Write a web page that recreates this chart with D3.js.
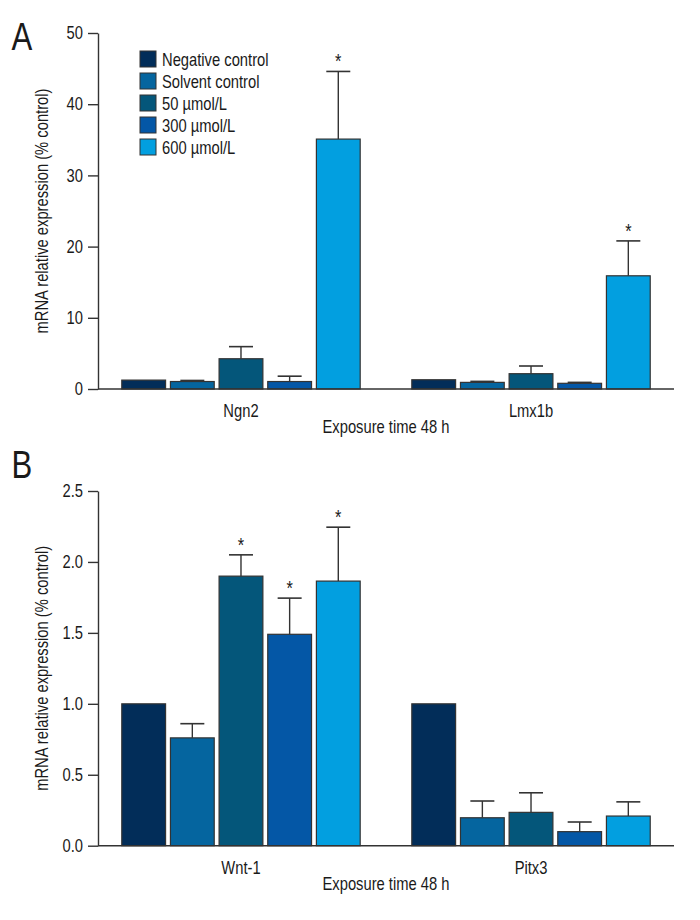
<!DOCTYPE html>
<html>
<head>
<meta charset="utf-8">
<script src="https://cdn.jsdelivr.net/npm/d3@7"></script>
<style>
  body { margin: 0; background: #fff; }
  svg { display: block; }
  text { font-family: "Liberation Sans", Arial, sans-serif; fill: #1a1a1a; }
</style>
</head>
<body>
<svg id="chart" width="700" height="920"></svg>
<script>
// ---- data ----
const seriesNames = ["Negative control", "Solvent control", "50 µmol/L", "300 µmol/L", "600 µmol/L"];
const seriesColors = ["#022d59", "#05659f", "#04567a", "#0457a6", "#029fe0"];

const genesA = ["Ngn2", "Lmx1b"];
const ngn2Mean = [1.25, 1.05, 4.25, 1.05, 35.1];
const ngn2Sem  = [0, 0.15, 1.7, 0.75, 9.5];
const ngn2Sig  = [false, false, false, false, true];
const lmx1bMean = [1.3, 0.93, 2.15, 0.8, 15.9];
const lmx1bSem  = [0, 0.14, 1.08, 0.13, 4.9];
const lmx1bSig  = [false, false, false, false, true];
const ticksA = [0, 10, 20, 30, 40, 50];

const genesB = ["Wnt-1", "Pitx3"];
const wnt1Mean = [1.0, 0.76, 1.90, 1.49, 1.865];
const wnt1Sem  = [0, 0.10, 0.15, 0.255, 0.38];
const wnt1Sig  = [false, false, true, true, true];
const pitx3Mean = [1.0, 0.197, 0.235, 0.099, 0.209];
const pitx3Sem  = [0, 0.118, 0.138, 0.068, 0.10];
const pitx3Sig  = [false, false, false, false, false];
const ticksB = [0, 0.5, 1.0, 1.5, 2.0, 2.5];

const yTitle = "mRNA relative expression (% control)";
const xTitle = "Exposure time 48 h";

// ---- drawing ----
const svg = d3.select("#chart");
const stroke = "#333";
const NARROW = 0.82; // horizontal condensation to mimic a narrow typeface

function ntext(parent, x, y, str, size, anchor, extra) {
  return parent.append("text")
    .attr("transform", `translate(${x},${y})${extra || ""} scale(${NARROW},1)`)
    .attr("text-anchor", anchor || "start")
    .attr("font-size", size)
    .text(str);
}

function panel(opts) {
  const { letter, letterY, genes, means, sems, sigs, ticks, yMax, y0, y1, fmt, legend } = opts;
  const g = svg.append("g");
  const x = d3.scaleBand().domain(genes).range([98, 674]).paddingInner(0.178).paddingOuter(0.082);
  const xi = d3.scaleBand().domain(seriesNames).range([0, x.bandwidth()]).paddingInner(0.1);
  const y = d3.scaleLinear().domain([0, yMax]).range([y0, y1]);

  const rows = genes.map((gname, gi) => seriesNames.map((s, si) => ({
    gene: gname, series: s, si, mean: means[gi][si], sem: sems[gi][si], sig: sigs[gi][si]
  }))).flat();

  // bars
  g.selectAll("rect.bar").data(rows).join("rect")
    .attr("class", "bar")
    .attr("x", d => x(d.gene) + xi(d.series))
    .attr("y", d => y(d.mean))
    .attr("width", xi.bandwidth())
    .attr("height", d => y(0) - y(d.mean))
    .attr("fill", d => seriesColors[d.si])
    .attr("stroke", stroke).attr("stroke-width", 1.2);

  // error bars
  const eb = rows.filter(d => d.sem > 0);
  const cx = d => x(d.gene) + xi(d.series) + xi.bandwidth() / 2;
  g.selectAll("line.err").data(eb).join("line")
    .attr("x1", cx).attr("x2", cx)
    .attr("y1", d => y(d.mean)).attr("y2", d => y(d.mean + d.sem))
    .attr("stroke", stroke).attr("stroke-width", 1.4);
  g.selectAll("line.cap").data(eb).join("line")
    .attr("x1", d => cx(d) - 12).attr("x2", d => cx(d) + 12)
    .attr("y1", d => y(d.mean + d.sem)).attr("y2", d => y(d.mean + d.sem))
    .attr("stroke", stroke).attr("stroke-width", 1.6);

  // significance asterisks
  rows.filter(d => d.sig).forEach(d => {
    ntext(g, cx(d), y(d.mean + d.sem) - 3, "*", 20, "middle");
  });

  // y axis
  const ya = g.append("g").attr("transform", "translate(98,0)")
    .call(d3.axisLeft(y).tickValues(ticks).tickFormat(fmt).tickSize(10).tickPadding(5).tickSizeOuter(0));
  ya.selectAll("text")
    .attr("font-size", 18)
    .style("font-family", null)
    .attr("x", -15 / NARROW)
    .attr("transform", `scale(${NARROW},1)`);
  ya.selectAll("line, path").attr("stroke", stroke).attr("stroke-width", 1.4);

  // x baseline
  g.append("line").attr("x1", 98).attr("x2", 674).attr("y1", y0).attr("y2", y0)
    .attr("stroke", stroke).attr("stroke-width", 1.4);

  // category labels
  genes.forEach(gn => ntext(g, x(gn) + x.bandwidth() / 2, y0 + 28, gn, 18, "middle"));

  // x title
  ntext(g, 386, y0 + 44, xTitle, 18, "middle");

  // y title
  ntext(g, 48, (y0 + y1) / 2, yTitle, 18, "middle", " rotate(-90)");

  // panel letter
  ntext(g, 22, letterY, letter, 38, "middle");

  if (legend) {
    const lg = g.append("g").attr("transform", "translate(140,51)");
    seriesNames.forEach((s, i) => {
      const it = lg.append("g").attr("transform", `translate(0,${i * 22})`);
      it.append("rect").attr("width", 16).attr("height", 16)
        .attr("fill", seriesColors[i]).attr("stroke", stroke).attr("stroke-width", 1);
      ntext(it, 22, 14.5, s, 18, "start");
    });
  }
}

panel({
  letter: "A", letterY: 50, genes: genesA,
  means: [ngn2Mean, lmx1bMean], sems: [ngn2Sem, lmx1bSem], sigs: [ngn2Sig, lmx1bSig],
  ticks: ticksA, yMax: 50, y0: 389, y1: 33, fmt: d3.format("d"), legend: true
});
panel({
  letter: "B", letterY: 478, genes: genesB,
  means: [wnt1Mean, pitx3Mean], sems: [wnt1Sem, pitx3Sem], sigs: [wnt1Sig, pitx3Sig],
  ticks: ticksB, yMax: 2.5, y0: 845.7, y1: 491, fmt: d3.format(".1f"), legend: false
});
</script>
</body>
</html>
